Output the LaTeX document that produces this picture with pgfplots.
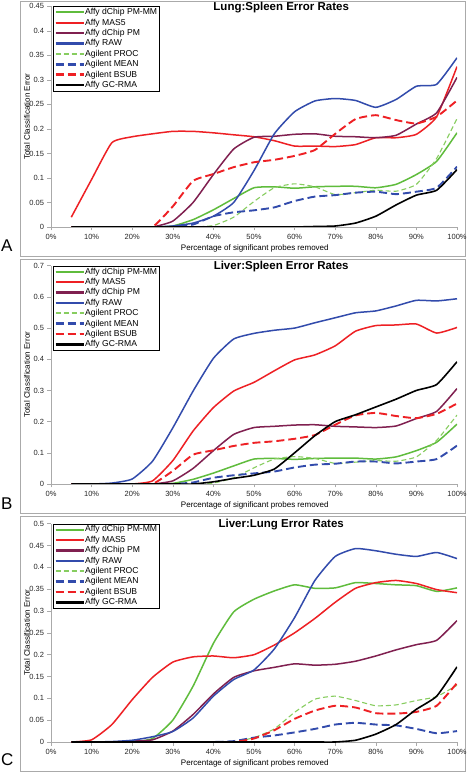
\documentclass[border=0pt]{standalone}
\usepackage{fontspec}
\setmainfont{Liberation Sans}
\usepackage{pgfplots}
\pgfplotsset{compat=1.18}
\usepackage{pgfplotstable}

\definecolor{cgreen}{RGB}{95,188,60}
\definecolor{cred}{RGB}{238,32,36}
\definecolor{cpurple}{RGB}{128,32,80}
\definecolor{cblue}{RGB}{50,75,172}
\definecolor{clgreen}{RGB}{135,205,95}
\definecolor{cframe}{RGB}{170,170,170}

\pgfplotstableread{
x pmmm mas5 pm raw proc mean bsub gcrma
5 0 0.020 0 0 0 0 0 0
10 0 0.097 0 0 0 0 0 0
15 0 0.172 0 0 0 0 0 0
20 0 0.184 0 0 0 0 0 0
25 0 0.190 0 0 0 0 0 0
30 0.002 0.195 0.012 0.002 0 0 0.042 0
35 0.015 0.195 0.050 0.008 0 0.005 0.094 0
40 0.035 0.192 0.107 0.022 0.003 0.022 0.108 0
45 0.058 0.188 0.159 0.050 0.020 0.030 0.122 0
50 0.080 0.184 0.183 0.115 0.052 0.034 0.132 0
55 0.082 0.176 0.185 0.190 0.080 0.040 0.137 0
60 0.079 0.165 0.189 0.235 0.088 0.053 0.145 0
65 0.082 0.165 0.190 0.257 0.082 0.062 0.157 0.001
70 0.083 0.164 0.185 0.262 0.066 0.065 0.190 0.002
75 0.083 0.168 0.184 0.258 0.070 0.070 0.220 0.008
80 0.080 0.182 0.182 0.244 0.075 0.072 0.228 0.022
85 0.087 0.182 0.187 0.260 0.073 0.067 0.218 0.045
90 0.107 0.189 0.210 0.287 0.087 0.072 0.211 0.065
95 0.134 0.225 0.233 0.291 0.140 0.080 0.225 0.075
100 0.192 0.327 0.305 0.345 0.221 0.123 0.258 0.117
}\tabA

\pgfplotstableread{
x pmmm mas5 pm raw proc mean bsub gcrma
5 0 0 0 0 0 0 0 0
10 0 0 0 0 0 0 0 0
15 0 0 0 0.003 0 0 0 0
20 0 0 0 0.016 0 0 0 0
25 0 0.010 0 0.073 0 0 0 0
30 0.002 0.075 0.010 0.180 0 0 0.042 0
35 0.015 0.170 0.050 0.298 0 0.005 0.094 0
40 0.035 0.245 0.107 0.403 0.003 0.020 0.108 0.007
45 0.058 0.298 0.159 0.465 0.020 0.028 0.122 0.018
50 0.080 0.326 0.181 0.483 0.052 0.034 0.132 0.028
55 0.082 0.363 0.185 0.493 0.080 0.040 0.137 0.048
60 0.079 0.398 0.189 0.500 0.088 0.053 0.145 0.100
65 0.082 0.414 0.190 0.517 0.082 0.062 0.157 0.155
70 0.083 0.443 0.185 0.533 0.066 0.065 0.190 0.200
75 0.083 0.490 0.183 0.549 0.070 0.072 0.220 0.222
80 0.080 0.508 0.181 0.555 0.075 0.072 0.228 0.247
85 0.087 0.510 0.186 0.571 0.073 0.066 0.218 0.272
90 0.107 0.513 0.210 0.589 0.087 0.072 0.211 0.300
95 0.134 0.484 0.233 0.587 0.140 0.080 0.225 0.319
100 0.192 0.502 0.306 0.594 0.221 0.123 0.258 0.392
}\tabB

\pgfplotstableread{
x pmmm mas5 pm raw proc mean bsub gcrma
5 0 0 0 0 0 0 0 0
10 0 0.005 0 0 0 0 0 0
15 0 0.040 0 0.001 0 0 0 0
20 0 0.097 0.002 0.004 0 0 0 0
25 0.008 0.148 0.005 0.012 0 0 0 0
30 0.050 0.183 0.025 0.024 0 0 0 0
35 0.128 0.195 0.063 0.055 0 0 0 0
40 0.226 0.197 0.110 0.105 0 0 0 0
45 0.298 0.193 0.148 0.143 0 0.002 0 0
50 0.327 0.200 0.163 0.165 0.010 0.010 0.008 0
55 0.346 0.222 0.171 0.213 0.030 0.015 0.027 0
60 0.360 0.250 0.179 0.285 0.068 0.022 0.053 0
65 0.352 0.283 0.176 0.370 0.098 0.030 0.072 0
70 0.353 0.320 0.178 0.425 0.105 0.040 0.083 0
75 0.365 0.352 0.185 0.443 0.095 0.044 0.079 0.004
80 0.363 0.365 0.197 0.438 0.083 0.040 0.066 0.018
85 0.360 0.370 0.211 0.430 0.085 0.038 0.065 0.040
90 0.358 0.363 0.223 0.425 0.095 0.030 0.069 0.075
95 0.345 0.349 0.233 0.434 0.104 0.020 0.083 0.105
100 0.353 0.342 0.278 0.420 0.130 0.025 0.135 0.172
}\tabC

\pgfplotsset{
  panel/.style={
    scale only axis, width=406pt, anchor=south west,
    xmin=0, xmax=100, ymin=0,
    clip=true,
    axis x line*=bottom, axis y line*=left,
    axis line style={cframe, line width=0.7pt, -},
    tick style={cframe, line width=0.6pt},
    tick align=outside, major tick length=3.5pt,
    xtick={0,10,20,30,40,50,60,70,80,90,100},
    xticklabels={0\%,10\%,20\%,30\%,40\%,50\%,60\%,70\%,80\%,90\%,100\%},
    scaled y ticks=false,
    yticklabel style={/pgf/number format/fixed, /pgf/number format/precision=2},
    /pgf/number format/assume math mode=true,
    ticklabel style={font=\fontsize{7.5}{8}\selectfont, text=black!85},
    xlabel={Percentage of significant probes removed},
    ylabel={Total Classification Error},
    xlabel style={font=\fontsize{8}{9}\selectfont, at={(axis description cs:0.502,0)}, anchor=center, yshift=-21pt},
    ylabel style={font=\fontsize{8}{9}\selectfont, at={(axis description cs:-0.059,0.5)}, anchor=center},
    title style={font=\bfseries\fontsize{11.5}{13}\selectfont, at={(axis description cs:0.567,1)}, anchor=north, inner sep=0pt, yshift=-1.7pt},
    legend cell align=left,
    legend style={at={(axis description cs:0.005,1)}, anchor=north west, draw=black,
      font=\fontsize{8.6}{9}\selectfont, inner xsep=1.5pt, inner ysep=1.2pt, row sep=1.3pt,
      nodes={inner sep=0.5pt, text height=6.4pt, text depth=1.7pt}},
    legend image code/.code={%
      \draw[#1] (0pt,-0.35pt) -- (28pt,-0.35pt);
      \draw[#1] (0pt,0.35pt) -- (28pt,0.35pt);},
    every axis plot/.append style={smooth, tension=0.3},
  },
  spmmm/.style={cgreen, line width=1.5pt},
  smas5/.style={cred, line width=1.5pt},
  spm/.style={cpurple, line width=1.5pt},
  sraw/.style={cblue, line width=1.5pt},
  sproc/.style={clgreen, line width=1.1pt, dash pattern=on 5pt off 3pt},
  smean/.style={cblue, line width=1.9pt, dash pattern=on 8pt off 4pt},
  sbsub/.style={cred, line width=1.9pt, dash pattern=on 8pt off 4pt},
  sgcrma/.style={black, line width=1.6pt},
}

\newcommand{\panelplots}[1]{%
  \addplot[spmmm] table[x=x, y=pmmm] {#1}; \addlegendentry{Affy dChip PM-MM}
  \addplot[smas5] table[x=x, y=mas5] {#1}; \addlegendentry{Affy MAS5}
  \addplot[spm] table[x=x, y=pm] {#1}; \addlegendentry{Affy dChip PM}
  \addplot[sraw] table[x=x, y=raw] {#1}; \addlegendentry{Affy RAW}
  \addplot[sproc] table[x=x, y=proc] {#1}; \addlegendentry{Agilent PROC}
  \addplot[smean] table[x=x, y=mean] {#1}; \addlegendentry{Agilent MEAN}
  \addplot[sbsub] table[x=x, y=bsub] {#1}; \addlegendentry{Agilent BSUB}
  \addplot[sgcrma] table[x=x, y=gcrma] {#1}; \addlegendentry{Affy GC-RMA}
}

\begin{document}
\begin{tikzpicture}
\useasboundingbox (0pt,0pt) rectangle (467pt,772pt);
\fill[white] (0pt,0pt) rectangle (467pt,772pt);
% panel frames
\draw[cframe, line width=0.8pt] (20pt,516pt) rectangle (465pt,771pt);
\draw[cframe, line width=0.8pt] (20pt,259pt) rectangle (465pt,513pt);
\draw[cframe, line width=0.8pt] (20pt,1pt) rectangle (465pt,256pt);
\node[anchor=base west, inner sep=0pt, font=\fontsize{17}{17}\selectfont] at (1pt,520pt) {A};
\node[anchor=base west, inner sep=0pt, font=\fontsize{17}{17}\selectfont] at (1pt,262pt) {B};
\node[anchor=base west, inner sep=0pt, font=\fontsize{17}{17}\selectfont] at (1pt,6pt) {C};

\begin{axis}[panel, at={(51pt,545pt)}, height=220.7pt, ymax=0.45,
  ytick={0,0.05,...,0.46}, title={Lung:Spleen Error Rates}]
\panelplots{\tabA}
\end{axis}

\begin{axis}[panel, at={(51pt,288pt)}, height=218.3pt, ymax=0.7,
  ytick={0,0.1,...,0.71}, title={Liver:Spleen Error Rates}]
\panelplots{\tabB}
\end{axis}

\begin{axis}[panel, at={(51pt,30pt)}, height=218.3pt, ymax=0.5,
  ytick={0,0.05,...,0.51}, title={Liver:Lung Error Rates}]
\panelplots{\tabC}
\end{axis}
\end{tikzpicture}
\end{document}
